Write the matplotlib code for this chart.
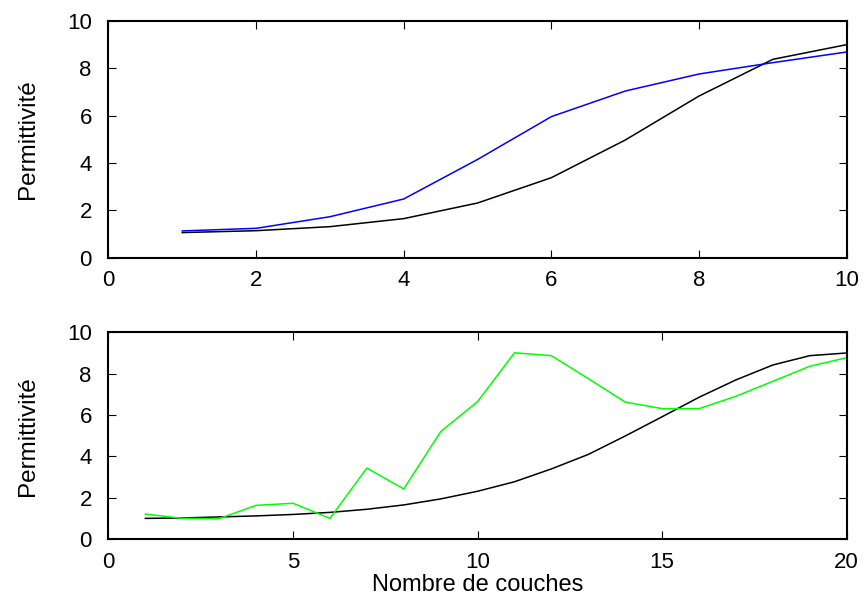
import matplotlib
matplotlib.use('Agg')
import matplotlib.pyplot as plt

plt.rcParams['font.family'] = ['Liberation Sans', 'DejaVu Sans']

# top panel: 10 layers
couches_a = [1, 2, 3, 4, 5, 6, 7, 8, 9, 10]
perm_bleu = [1.13, 1.24, 1.73, 2.48, 4.15, 5.96, 7.04, 7.76, 8.24, 8.69]
perm_noir_a = [1.06, 1.14, 1.31, 1.65, 2.31, 3.38, 4.97, 6.83, 8.38, 9.0]

# bottom panel: 20 layers
couches_b = list(range(1, 21))
perm_vert = [1.22, 1.01, 1.0, 1.64, 1.74, 1.01, 3.44, 2.43, 5.2, 6.65,
             9.01, 8.87, 7.76, 6.63, 6.31, 6.31, 6.91, 7.63, 8.36, 8.77]
perm_noir_b = [1.01, 1.03, 1.08, 1.13, 1.2, 1.3, 1.45, 1.66, 1.95, 2.32,
               2.78, 3.4, 4.1, 4.99, 5.92, 6.86, 7.7, 8.42, 8.87, 9.0]

fig = plt.figure(figsize=(8.67, 6.08), dpi=100)
ax1 = fig.add_axes([0.1251, 0.5762, 0.8515, 0.3893])
ax2 = fig.add_axes([0.1251, 0.1130, 0.8515, 0.3405])

ax1.plot(couches_a, perm_noir_a, color='black', lw=1.1)
ax1.plot(couches_a, perm_bleu, color='#0000ff', lw=1.1)
ax1.set_xlim(0, 10)
ax1.set_xticks([0, 2, 4, 6, 8, 10])

ax2.plot(couches_b, perm_noir_b, color='black', lw=1.1)
ax2.plot(couches_b, perm_vert, color='#00ff00', lw=1.1)
ax2.set_xlim(0, 20)
ax2.set_xticks([0, 5, 10, 15, 20])
ax2.set_xlabel('Nombre de couches', fontsize=17, labelpad=1)

for ax in (ax1, ax2):
    ax.set_ylim(0, 10)
    ax.set_yticks([0, 2, 4, 6, 8, 10])
    ax.set_ylabel('Permittivité', fontsize=17.5, labelpad=20)
    ax.tick_params(direction='in', top=True, right=True, length=6, width=0.8,
                   labelsize=16)
    ax.tick_params(axis='y', pad=12)
    ax.tick_params(axis='x', pad=9)
    for s in ax.spines.values():
        s.set_linewidth(1.5)

fig.savefig('out.png', dpi=100)
